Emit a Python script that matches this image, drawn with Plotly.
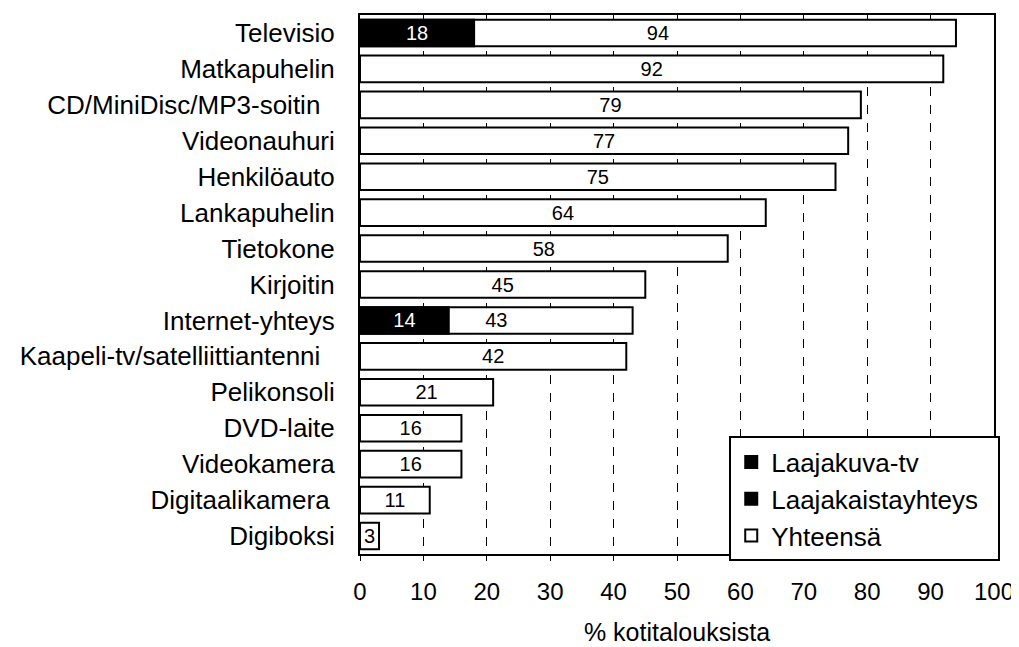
import plotly.graph_objects as go

categories = [
    "Televisio", "Matkapuhelin", "CD/MiniDisc/MP3-soitin\u00a0\u00a0", "Videonauhuri",
    "Henkilöauto", "Lankapuhelin", "Tietokone", "Kirjoitin", "Internet-yhteys",
    "Kaapeli-tv/satelliittiantenni\u00a0\u00a0", "Pelikonsoli", "DVD-laite",
    "Videokamera", "Digitaalikamera\u2009", "Digiboksi",
]
yhteensa = [94, 92, 79, 77, 75, 64, 58, 45, 43, 42, 21, 16, 16, 11, 3]
laajakuva_tv = [18, None, None, None, None, None, None, None, None, None, None, None, None, None, None]
laajakaista = [None, None, None, None, None, None, None, None, 14, None, None, None, None, None, None]
x_ticks = [0, 10, 20, 30, 40, 50, 60, 70, 80, 90, 100]

FONT = "Liberation Sans, Arial, sans-serif"
BW = 0.74

fig = go.Figure()
fig.add_trace(go.Bar(
    y=categories, x=yhteensa, orientation="h", name="Yhteensä",
    marker=dict(color="white", line=dict(color="black", width=2)),
    width=BW, text=[str(v) for v in yhteensa], textposition="inside",
    insidetextanchor="middle", textangle=0, constraintext="none",
    textfont=dict(color="black", size=20, family=FONT),
    legendrank=3, legendgroup="c",
))
fig.add_trace(go.Bar(
    y=categories, x=laajakuva_tv, orientation="h", name="Laajakuva-tv",
    marker=dict(color="black", line=dict(color="black", width=2)),
    width=BW, text=[str(v) if v is not None else "" for v in laajakuva_tv],
    textposition="inside", insidetextanchor="middle", textangle=0, constraintext="none",
    textfont=dict(color="white", size=20, family=FONT),
    legendrank=1, legendgroup="a",
))
fig.add_trace(go.Bar(
    y=categories, x=laajakaista, orientation="h", name="Laajakaistayhteys\u00a0\u00a0",
    marker=dict(color="black", line=dict(color="black", width=2)),
    width=BW, text=[str(v) if v is not None else "" for v in laajakaista],
    textposition="inside", insidetextanchor="middle", textangle=0, constraintext="none",
    textfont=dict(color="white", size=20, family=FONT),
    legendrank=2, legendgroup="b",
))

fig.update_layout(
    width=1011, height=639,
    margin=dict(l=352, r=22, t=5, b=85),
    barmode="overlay",
    paper_bgcolor="white", plot_bgcolor="white",
    font=dict(family=FONT, color="black"),
    showlegend=True,
    legend=dict(
        x=0.5824, y=0.218, xanchor="left", yanchor="top",
        bordercolor="black", borderwidth=2, bgcolor="white",
        font=dict(size=26, family=FONT, color="black"),
        traceorder="grouped", tracegroupgap=0,
    ),
)
fig.update_xaxes(
    range=[0, 100], tickvals=x_ticks, ticktext=[str(t) for t in x_ticks],
    showgrid=True, gridcolor="black", gridwidth=1, griddash="dash",
    showline=True, linecolor="black", linewidth=2, mirror=True,
    ticks="outside", ticklen=5, tickcolor="black", tickwidth=1,
    tickfont=dict(size=24, family=FONT, color="black"),
    ticklabelstandoff=10,
    title=dict(text="% kotitalouksista", font=dict(size=25, family=FONT, color="black"), standoff=20),
    zeroline=False,
)
fig.update_yaxes(
    type="category", categoryorder="array", categoryarray=categories,
    autorange="reversed",
    showgrid=False, showline=True, linecolor="black", linewidth=2, mirror=True,
    ticks="", tickfont=dict(size=26, family=FONT, color="black"),
    ticklabelstandoff=18,
)

fig.write_html("out.html")
